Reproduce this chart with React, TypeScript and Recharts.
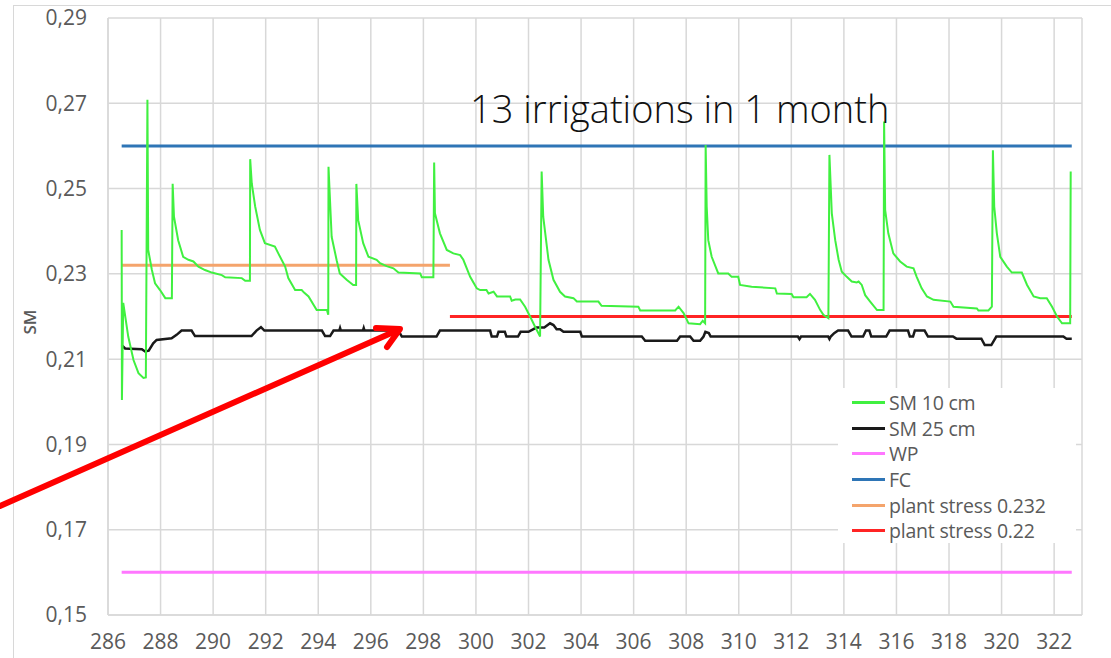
import { LineChart, Line, XAxis, YAxis, CartesianGrid } from 'recharts';

// day of year, soil moisture
const SM10: [number, number][] = [
  [286.52, 0.2403], [286.53, 0.2004], [286.58, 0.2232], [286.77, 0.2153], [286.97, 0.2098],
  [287.16, 0.2067], [287.35, 0.2056], [287.44, 0.2057], [287.5, 0.2708], [287.53, 0.2356],
  [287.67, 0.2309], [287.79, 0.2278], [287.98, 0.2262], [288.18, 0.2243], [288.43, 0.2243],
  [288.46, 0.2511], [288.51, 0.2434], [288.67, 0.2379], [288.86, 0.234], [289.06, 0.2333],
  [289.25, 0.2329], [289.44, 0.2317], [289.69, 0.2309], [289.95, 0.2303], [290.33, 0.2297],
  [290.46, 0.2292], [291.09, 0.229], [291.22, 0.2284], [291.4, 0.2284], [291.41, 0.2569],
  [291.47, 0.2512], [291.6, 0.2458], [291.78, 0.2403], [291.97, 0.2372], [292.35, 0.2364],
  [292.48, 0.2348], [292.74, 0.2317], [292.86, 0.229], [293.12, 0.2262], [293.37, 0.2262],
  [293.46, 0.2256], [293.63, 0.2247], [293.94, 0.2215], [294.33, 0.2215], [294.38, 0.2204],
  [294.39, 0.2551], [294.51, 0.2387], [294.7, 0.2332], [294.82, 0.2301], [295.08, 0.2286],
  [295.33, 0.2274], [295.44, 0.2274], [295.45, 0.2511], [295.52, 0.2426], [295.71, 0.2372],
  [295.91, 0.234], [296.22, 0.2333], [296.35, 0.2325], [296.6, 0.2318], [296.86, 0.2313],
  [297.05, 0.2303], [297.88, 0.2301], [297.94, 0.2292], [298.38, 0.2292], [298.41, 0.2561],
  [298.44, 0.2442], [298.63, 0.2395], [298.89, 0.2356], [299.14, 0.2348], [299.4, 0.2344],
  [299.52, 0.2333], [299.78, 0.2293], [300.03, 0.2266], [300.16, 0.2262], [300.4, 0.2262],
  [300.48, 0.2254], [300.67, 0.2258], [300.8, 0.2247], [301.3, 0.2247], [301.36, 0.2237],
  [301.5, 0.224], [301.68, 0.224], [301.87, 0.2223], [302.06, 0.22], [302.25, 0.2176],
  [302.44, 0.2153], [302.5, 0.254], [302.56, 0.2434], [302.76, 0.2333], [302.95, 0.2286],
  [303.2, 0.2258], [303.39, 0.2247], [303.71, 0.2243], [303.84, 0.2235], [304.66, 0.2235],
  [304.78, 0.2225], [306.18, 0.2223], [306.25, 0.2214], [307.58, 0.2214], [307.71, 0.2223],
  [307.9, 0.2208], [308.09, 0.2184], [308.53, 0.2182], [308.63, 0.219], [308.72, 0.2184],
  [308.74, 0.2602], [308.78, 0.2458], [308.84, 0.2379], [308.97, 0.234], [309.22, 0.2301],
  [309.6, 0.2301], [309.73, 0.2293], [309.98, 0.2293], [310.05, 0.2274], [310.49, 0.227],
  [311.39, 0.2266], [311.45, 0.2254], [312.01, 0.2253], [312.08, 0.2245], [312.58, 0.2245],
  [312.71, 0.2253], [312.9, 0.2239], [313.1, 0.2215], [313.22, 0.2204], [313.41, 0.2196],
  [313.45, 0.2579], [313.54, 0.2442], [313.67, 0.2379], [313.8, 0.2333], [313.92, 0.2305],
  [314.11, 0.2293], [314.3, 0.2282], [314.49, 0.228], [314.56, 0.2282], [314.68, 0.2274],
  [314.81, 0.225], [315.0, 0.2235], [315.26, 0.2215], [315.51, 0.2215], [315.53, 0.2657],
  [315.57, 0.245], [315.69, 0.2395], [315.88, 0.2348], [316.14, 0.2329], [316.39, 0.2317],
  [316.65, 0.2313], [316.77, 0.2293], [316.96, 0.2266], [317.16, 0.2247], [317.41, 0.2239],
  [318.05, 0.2235], [318.17, 0.2223], [319.06, 0.2219], [319.12, 0.2214], [319.5, 0.2214],
  [319.63, 0.2223], [319.67, 0.259], [319.72, 0.2458], [319.82, 0.2395], [319.95, 0.234],
  [320.2, 0.2317], [320.39, 0.2303], [320.77, 0.2303], [320.97, 0.2274], [321.22, 0.2247],
  [321.47, 0.2243], [321.72, 0.2243], [321.92, 0.2223], [322.11, 0.22], [322.3, 0.2184],
  [322.61, 0.2184], [322.63, 0.254],
];

const SM25: [number, number][] = [
  [286.52, 0.2133], [286.65, 0.2125], [287.29, 0.2123], [287.41, 0.2118], [287.55, 0.212],
  [287.72, 0.2137], [287.85, 0.2145], [288.42, 0.2149], [288.61, 0.2157], [288.8, 0.2167],
  [289.18, 0.2167], [289.31, 0.2154], [291.46, 0.2154], [291.65, 0.2167], [291.82, 0.2175],
  [291.95, 0.2167], [294.14, 0.2167], [294.26, 0.2154], [294.45, 0.2154], [294.58, 0.2167],
  [294.8, 0.2167], [294.83, 0.2173], [294.86, 0.2167], [295.7, 0.2167], [295.73, 0.2173],
  [295.76, 0.2167], [297.05, 0.2167], [297.18, 0.2153], [298.5, 0.2153], [298.63, 0.2167],
  [300.54, 0.2167], [300.6, 0.2153], [300.8, 0.2153], [300.86, 0.2164], [301.1, 0.2164],
  [301.16, 0.2153], [301.6, 0.2153], [301.7, 0.2164], [302.0, 0.2164], [302.3, 0.2174],
  [302.6, 0.2174], [302.82, 0.2184], [302.95, 0.218], [303.07, 0.217], [303.2, 0.217],
  [303.33, 0.2164], [303.97, 0.2164], [304.03, 0.2153], [306.31, 0.2153], [306.44, 0.2143],
  [307.65, 0.2143], [307.77, 0.2153], [308.15, 0.2153], [308.28, 0.2143], [308.53, 0.2143],
  [308.66, 0.2153], [308.73, 0.2164], [308.86, 0.2161], [308.93, 0.2153], [312.25, 0.2153],
  [312.31, 0.2147], [312.37, 0.2153], [313.4, 0.2153], [313.45, 0.2147], [313.5, 0.2153],
  [313.63, 0.2161], [313.78, 0.2167], [314.16, 0.2167], [314.29, 0.2153], [314.73, 0.2153],
  [314.84, 0.2167], [314.97, 0.2167], [315.04, 0.2153], [315.61, 0.2153], [315.74, 0.2167],
  [316.44, 0.2167], [316.51, 0.2153], [316.63, 0.2153], [316.7, 0.2167], [317.07, 0.2167],
  [317.2, 0.2153], [318.15, 0.2153], [318.28, 0.2148], [319.23, 0.2148], [319.36, 0.2133],
  [319.61, 0.2133], [319.8, 0.2153], [322.35, 0.2153], [322.47, 0.2148], [322.67, 0.2148],
];

const WP: [number, number][] = [[286.52, 0.16], [322.67, 0.16]];
const FC: [number, number][] = [[286.52, 0.26], [322.67, 0.26]];
const STRESS_232: [number, number][] = [[286.52, 0.232], [299.01, 0.232]];
const STRESS_22: [number, number][] = [[299.01, 0.22], [322.67, 0.22]];

const X_TICKS = [286, 288, 290, 292, 294, 296, 298, 300, 302, 304, 306, 308, 310, 312, 314, 316, 318, 320, 322];
const Y_TICKS = [0.15, 0.17, 0.19, 0.21, 0.23, 0.25, 0.27, 0.29];

const SERIES = [
  { name: 'SM 10 cm', points: SM10, color: '#40f040', width: 2 },
  { name: 'SM 25 cm', points: SM25, color: '#1a1a1a', width: 2.5 },
  { name: 'WP', points: WP, color: '#ff77ff', width: 3 },
  { name: 'FC', points: FC, color: '#2e75b6', width: 3 },
  { name: 'plant stress 0.232', points: STRESS_232, color: '#f4a46c', width: 3 },
  { name: 'plant stress 0.22', points: STRESS_22, color: '#ff2424', width: 3 },
];

const toRows = (pts: [number, number][]) => pts.map(([day, sm]) => ({ day, sm }));

const FONT = '"Open Sans", "DejaVu Sans", sans-serif';
const GRAY = '#5a5a5a';
const GRID = '#d8d8d8';

function LegendBox() {
  return (
    <div
      style={{
        position: 'absolute',
        left: 838,
        top: 388,
        width: 238,
        height: 155,
        background: '#fff',
        fontFamily: FONT,
        fontSize: 19.5,
        color: GRAY,
      }}
    >
      {SERIES.map((s, i) => (
        <div
          key={s.name}
          style={{
            position: 'absolute',
            left: 14,
            top: 2 + i * 25.6,
            height: 25.6,
            display: 'flex',
            alignItems: 'center',
            whiteSpace: 'nowrap',
            letterSpacing: -0.2,
          }}
        >
          <span style={{ display: 'inline-block', width: 33, height: 3, background: s.color, marginRight: 4 }} />
          {s.name}
        </div>
      ))}
    </div>
  );
}

export default function App() {
  return (
    <div
      style={{
        position: 'absolute',
        left: 0,
        top: 0,
        width: 1111,
        height: 658,
        overflow: 'hidden',
        background: '#fff',
      }}
    >
      <div
        style={{
          position: 'absolute',
          left: 13,
          top: 5,
          width: 1098,
          height: 653,
          borderLeft: `1.5px solid ${GRID}`,
          borderTop: `1.5px solid ${GRID}`,
        }}
      />
      <div style={{ position: 'absolute', left: 0, top: 0 }}>
        <LineChart width={1111} height={658} margin={{ top: 18, right: 29, bottom: 0, left: 0 }}>
          <CartesianGrid stroke={GRID} strokeWidth={1.5} />
          <XAxis
            type="number"
            dataKey="day"
            domain={[286, 323.06]}
            ticks={X_TICKS}
            allowDataOverflow
            height={43}
            tickLine={false}
            tickMargin={13}
            axisLine={{ stroke: GRID, strokeWidth: 1.5 }}
            tick={{ fontFamily: FONT, fontSize: 21, fill: GRAY }}
            interval={0}
          />
          <YAxis
            type="number"
            domain={[0.15, 0.29]}
            ticks={Y_TICKS}
            width={108}
            tickLine={false}
            tickMargin={15}
            axisLine={{ stroke: GRID, strokeWidth: 1.5 }}
            tick={{ fontFamily: FONT, fontSize: 21, fill: GRAY }}
            tickFormatter={(v: number) => v.toFixed(2).replace('.', ',')}
            interval={0}
          />
          {SERIES.slice()
            .reverse()
            .map((s) => (
              <Line
                key={s.name}
                data={toRows(s.points)}
                dataKey="sm"
                name={s.name}
                type="linear"
                stroke={s.color}
                strokeWidth={s.width}
                dot={false}
                activeDot={false}
                isAnimationActive={false}
              />
            ))}
        </LineChart>
      </div>
      <LegendBox />
      <svg width={1111} height={658} style={{ position: 'absolute', left: 0, top: 0, pointerEvents: 'none' }}>
        <text x={470} y={123} fontFamily={FONT} fontWeight={300} fontSize={38} fill="#111">
          13 irrigations in 1 month
        </text>
        <text
          x={0}
          y={0}
          transform="translate(36 322) rotate(-90)"
          textAnchor="middle"
          fontFamily={FONT}
          fontSize={17}
          fontWeight={600}
          fill={GRAY}
        >
          SM
        </text>
        <line x1={0} y1={506} x2={398} y2={330} stroke="#ff0000" strokeWidth={6} strokeLinecap="round" />
        <polyline
          points="376,328 400,329 387,347"
          fill="none"
          stroke="#ff0000"
          strokeWidth={6}
          strokeLinecap="round"
          strokeLinejoin="round"
        />
      </svg>
    </div>
  );
}
